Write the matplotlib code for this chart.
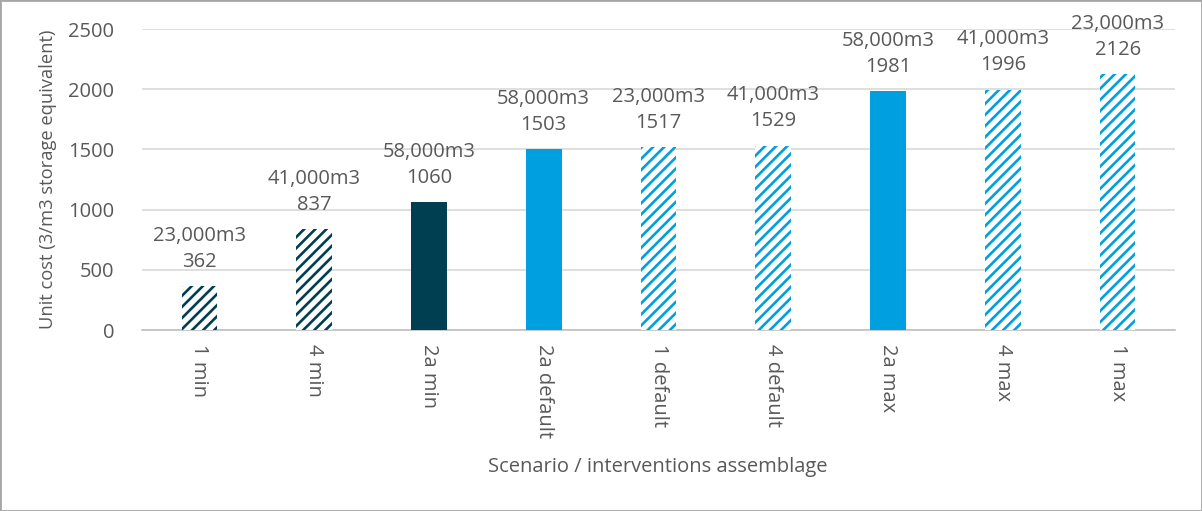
import matplotlib.pyplot as plt
from matplotlib.patches import Rectangle

plt.rcParams['font.family'] = ['Open Sans', 'DejaVu Sans']
plt.rcParams['hatch.linewidth'] = 1.9

scenarios = ['1 min', '4 min', '2a min', '2a default', '1 default',
             '4 default', '2a max', '4 max', '1 max']
unit_cost = [362, 837, 1060, 1503, 1517, 1529, 1981, 1996, 2126]
storage = ['23,000m3', '41,000m3', '58,000m3', '58,000m3', '23,000m3',
           '41,000m3', '58,000m3', '41,000m3', '23,000m3']
dark = '#003f51'
blue = '#009fdf'
colors = [dark, dark, dark, blue, blue, blue, blue, blue, blue]
hatched = [True, True, False, False, True, True, False, True, True]

txt = '#595959'
fs = 14.5

fig = plt.figure(figsize=(12.02, 5.11), dpi=100)
ax = fig.add_axes([142/1202, 1 - 330/511, 1033/1202, 301/511])

x = range(len(scenarios))
for i in x:
    if hatched[i]:
        ax.bar(i, unit_cost[i], width=0.31, color='white', edgecolor=colors[i],
               hatch='///', linewidth=0, zorder=3)
    else:
        ax.bar(i, unit_cost[i], width=0.31, color=colors[i], linewidth=0, zorder=3)
    ax.text(i, unit_cost[i] + 120, storage[i] + '\n' + str(unit_cost[i]),
            ha='center', va='bottom', fontsize=fs, color=txt, linespacing=1.4)

ax.set_xlim(-0.5, len(scenarios) - 0.5)
ax.set_ylim(0, 2500)
ax.set_yticks([0, 500, 1000, 1500, 2000, 2500])
ax.set_xticks(list(x))
ax.set_xticklabels(scenarios, rotation=-90, va='top', ha='center')
ax.tick_params(axis='both', length=0, labelsize=fs, colors=txt)
ax.tick_params(axis='x', pad=10)
ax.tick_params(axis='y', pad=20)
ax.grid(axis='y', color='#d9d9d9', linewidth=1.2, zorder=0)
for s in ['top', 'right', 'left']:
    ax.spines[s].set_visible(False)
ax.spines['bottom'].set_color('#bfbfbf')
ax.spines['bottom'].set_linewidth(1.2)

ax.set_ylabel('Unit cost (3/m3 storage equivalent)', fontsize=13.2, color=txt, labelpad=8)
fig.text(658/1202, 1 - 467/511, 'Scenario / interventions assemblage',
         ha='center', va='center', fontsize=fs, color=txt)

fig.patches.append(Rectangle((0, 0), 1, 1, transform=fig.transFigure, fill=False,
                             edgecolor='#a6a6a6', linewidth=2))

fig.savefig('out.png', dpi=100)
